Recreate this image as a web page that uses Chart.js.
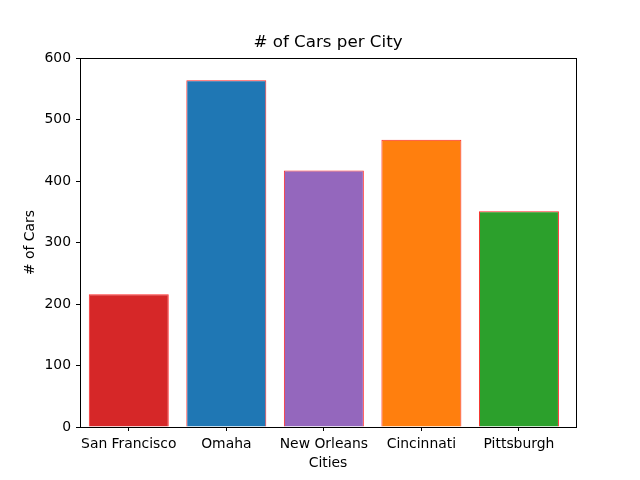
<!DOCTYPE html>
<html>
<head>
<meta charset="utf-8">
<script src="https://cdn.jsdelivr.net/npm/chart.js@4/dist/chart.umd.min.js"></script>
<style>
html,body{margin:0;padding:0;background:#fff;}
#wrap{width:640px;height:480px;}
</style>
</head>
<body>
<div id="wrap"><canvas id="c" width="640" height="480"></canvas></div>
<script>
const cities = ["San Francisco", "Omaha", "New Orleans", "Cincinnati", "Pittsburgh"];
const cars = [216, 564, 417, 467, 351];
const barColors = ["#d62728", "#1f77b4", "#9467bd", "#ff7f0e", "#2ca02c"];
const yTicks = [0, 100, 200, 300, 400, 500, 600];

const FONT = "'DejaVu Sans', sans-serif";

const frame = {
  id: 'frame',
  afterDatasetsDraw(chart) {
    const a = chart.chartArea, ctx = chart.ctx;
    ctx.save();
    ctx.strokeStyle = '#000';
    ctx.lineWidth = 1;
    ctx.strokeRect(Math.round(a.left) + 0.5, Math.round(a.top) + 0.5,
      Math.round(a.right - a.left), Math.round(a.bottom - a.top));
    ctx.restore();
  }
};

new Chart(document.getElementById('c'), {
  type: 'bar',
  data: {
    datasets: [{
      data: cities.map((c, i) => ({x: i, y: cars[i]})),
      backgroundColor: barColors,
      borderColor: 'rgba(255,0,0,0.85)',
      borderWidth: 1,
      barPercentage: 0.82,
      categoryPercentage: 1
    }]
  },
  options: {
    responsive: false,
    animation: false,
    layout: {padding: {left: 0, right: 64, top: 0, bottom: 0}},
    plugins: {
      legend: {display: false},
      tooltip: {enabled: false},
      title: {
        display: true,
        fullSize: false,
        text: '# of Cars per City',
        color: '#000',
        font: {family: FONT, size: 16.7, weight: 'normal', lineHeight: 1.2},
        padding: {top: 33, bottom: 5}
      }
    },
    scales: {
      x: {
        type: 'linear',
        offset: false,
        min: -0.5,
        max: 4.585,
        afterBuildTicks(scale) { scale.ticks = cities.map((c, i) => ({value: i})); },
        afterFit(scale) { scale.height = 53; },
        ticks: {
          color: '#000',
          font: {family: FONT, size: 13.9},
          padding: 5,
          maxRotation: 0,
          autoSkip: false,
          callback: (v) => cities[v]
        },
        grid: {display: true, offset: false, drawOnChartArea: false, drawTicks: true, tickLength: 4, tickColor: '#000'},
        border: {display: false},
        title: {
          display: true, text: 'Cities', color: '#000',
          font: {family: FONT, size: 13.9}, padding: {top: 8, bottom: 8}
        }
      },
      y: {
        min: 0,
        max: 600,
        afterBuildTicks(scale) { scale.ticks = yTicks.map(v => ({value: v})); },
        afterFit(scale) { scale.width = 80; },
        ticks: {
          color: '#000',
          font: {family: FONT, size: 13.9},
          padding: 5
        },
        grid: {display: true, drawOnChartArea: false, drawTicks: true, tickLength: 4, tickColor: '#000'},
        border: {display: false},
        title: {
          display: true, text: '# of Cars', color: '#000',
          font: {family: FONT, size: 13.9}, padding: {top: 22, bottom: 22}
        }
      }
    }
  },
  plugins: [frame]
});
</script>
</body>
</html>
